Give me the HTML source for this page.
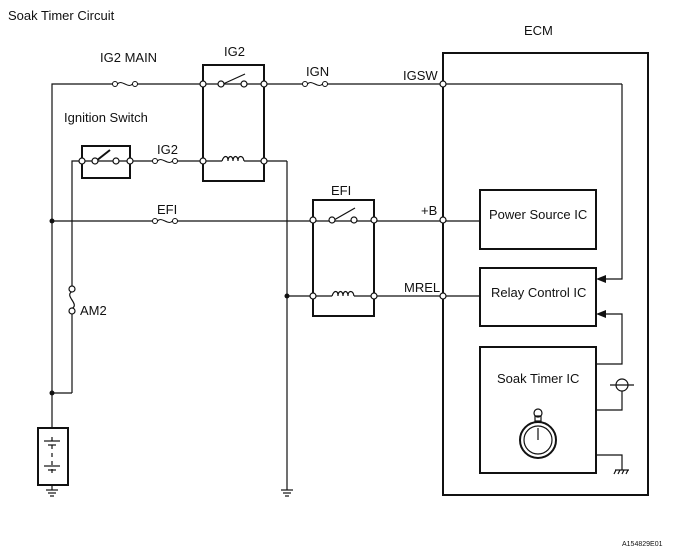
<!DOCTYPE html>
<html><head><meta charset="utf-8"><style>
body{margin:0;background:#fff}
svg{display:block}
text{font-family:"Liberation Sans",sans-serif;font-size:13px;fill:#111}
</style></head><body>
<svg width="681" height="552" viewBox="0 0 681 552" xmlns="http://www.w3.org/2000/svg">
<defs>
<g id="fuse"><circle cx="-10" cy="0" r="2.5" fill="#fff" stroke="#111"/><path d="M-7.5 0 C-3 -5 3 5 7.5 0" fill="none" stroke="#111"/><circle cx="10" cy="0" r="2.5" fill="#fff" stroke="#111"/></g>
</defs>
<g stroke="#111" stroke-width="1.2" fill="none">
<polyline points="52,428 52,84 115,84"/>
<line x1="135" y1="84" x2="305" y2="84"/>
<line x1="325" y1="84" x2="622" y2="84"/>
<polyline points="622,84 622,279 600,279"/>
<polyline points="596,364 622,364 622,314 600,314"/>
<rect x="203" y="65" width="61" height="116" stroke-width="2"/>
<line x1="223" y1="84" x2="245" y2="74"/>
<rect x="82" y="146" width="48" height="32" stroke-width="2"/>
<polyline points="72,289 72,161 155,161"/>
<polyline points="72,311 72,393"/>
<line x1="175" y1="161" x2="287" y2="161"/>
<polyline points="287,161 287,490"/>
<line x1="96" y1="161" x2="110" y2="150" stroke-width="2"/>
<line x1="52" y1="221" x2="155" y2="221"/>
<line x1="175" y1="221" x2="480" y2="221"/>
<rect x="313" y="200" width="61" height="116" stroke-width="2"/>
<line x1="334" y1="220" x2="355" y2="208"/>
<line x1="287" y1="296" x2="480" y2="296"/>
<rect x="443" y="53" width="205" height="442" stroke-width="2"/>
<rect x="480" y="190" width="116" height="59" stroke-width="2"/>
<rect x="480" y="268" width="116" height="58" stroke-width="2"/>
<rect x="480" y="347" width="116" height="126" stroke-width="2"/>
<polyline points="596,410 622,410 622,391"/>
<line x1="610" y1="385" x2="634" y2="385"/>
<polyline points="596,455 622,455 622,470"/>
<line x1="615" y1="470" x2="629" y2="470"/>
<line x1="616" y1="470" x2="614" y2="474"/><line x1="620" y1="470" x2="618" y2="474"/><line x1="624" y1="470" x2="622" y2="474"/><line x1="628" y1="470" x2="626" y2="474"/>
<circle cx="538" cy="440" r="18" stroke-width="2"/>
<circle cx="538" cy="440" r="14"/>
<rect x="535" y="416" width="6" height="5"/>
<circle cx="538" cy="413" r="4"/>
<line x1="538" y1="428" x2="538" y2="440"/>
<path d="M72 291.5 C64 296 80 304 72 308.5"/>
<polyline points="52,393 72,393"/>
<rect x="38" y="428" width="30" height="57" stroke-width="2"/>
<line x1="52" y1="437" x2="52" y2="476" stroke-dasharray="4,4"/>
<line x1="44" y1="441" x2="60" y2="441"/><line x1="48" y1="445" x2="56" y2="445"/>
<line x1="44" y1="466" x2="60" y2="466"/><line x1="48" y1="470" x2="56" y2="470"/>
<line x1="52" y1="485" x2="52" y2="490"/>
<line x1="46" y1="490" x2="58" y2="490"/><line x1="48" y1="493" x2="56" y2="493"/><line x1="50" y1="496" x2="54" y2="496"/>
<line x1="281" y1="490" x2="293" y2="490"/><line x1="283" y1="493" x2="291" y2="493"/><line x1="285" y1="496" x2="289" y2="496"/>
</g>
<circle cx="622" cy="385" r="6" fill="none" stroke="#111" stroke-width="1.2"/>
<polygon points="596,279 606,275 606,283" fill="#111"/>
<polygon points="596,314 606,310 606,318" fill="#111"/>
<g fill="#fff" stroke="#111" stroke-width="1.2">
<rect x="222" y="156" width="22" height="10" stroke="none"/>
<path d="M222 161 C224 155 228 155 228 161 C228 155 233 155 233 161 C233 155 238 155 238 161 C238 155 243 155 244 161" fill="none"/>
<rect x="332" y="291" width="22" height="10" stroke="none"/>
<path d="M332 296 C334 290 338 290 338 296 C338 290 343 290 343 296 C343 290 348 290 348 296 C348 290 353 290 354 296" fill="none"/>
</g>
<use href="#fuse" x="125" y="84"/>
<use href="#fuse" x="315" y="84"/>
<use href="#fuse" x="165" y="161"/>
<use href="#fuse" x="165" y="221"/>
<g fill="#fff" stroke="#111" stroke-width="1.2">
<circle cx="203" cy="84" r="3"/><circle cx="221" cy="84" r="3"/><circle cx="244" cy="84" r="3"/><circle cx="264" cy="84" r="3"/>
<circle cx="203" cy="161" r="3"/><circle cx="264" cy="161" r="3"/>
<circle cx="82" cy="161" r="3"/><circle cx="95" cy="161" r="3"/><circle cx="116" cy="161" r="3"/><circle cx="130" cy="161" r="3"/>
<circle cx="313" cy="220" r="3"/><circle cx="332" cy="220" r="3"/><circle cx="354" cy="220" r="3"/><circle cx="374" cy="220" r="3"/>
<circle cx="313" cy="296" r="3"/><circle cx="374" cy="296" r="3"/>
<circle cx="443" cy="84" r="3"/><circle cx="443" cy="220" r="3"/><circle cx="443" cy="296" r="3"/>
<circle cx="72" cy="289" r="3"/><circle cx="72" cy="311" r="3"/>
</g>
<g fill="#111"><circle cx="52" cy="221" r="2.5"/><circle cx="287" cy="296" r="2.5"/><circle cx="52" cy="393" r="2.5"/></g>
<text x="8" y="20">Soak Timer Circuit</text>
<text x="100" y="62">IG2 MAIN</text>
<text x="224" y="56">IG2</text>
<text x="306" y="76">IGN</text>
<text x="524" y="35">ECM</text>
<text x="403" y="80">IGSW</text>
<text x="64" y="122">Ignition Switch</text>
<text x="157" y="154">IG2</text>
<text x="157" y="214">EFI</text>
<text x="331" y="195">EFI</text>
<text x="421" y="215">+B</text>
<text x="404" y="292">MREL</text>
<text x="489" y="219">Power Source IC</text>
<text x="491" y="297">Relay Control IC</text>
<text x="497" y="383">Soak Timer IC</text>
<text x="80" y="315">AM2</text>
<text x="622" y="546" style="font-size:7px">A154829E01</text>
</svg>
</body></html>
